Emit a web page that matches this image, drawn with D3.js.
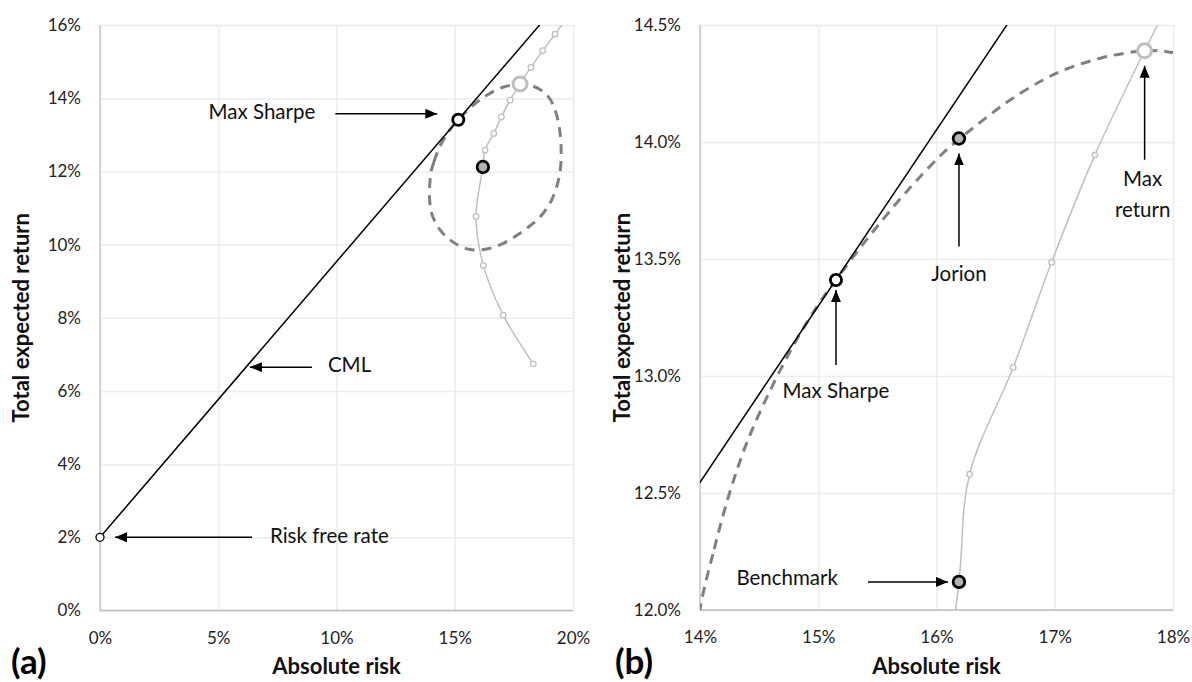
<!DOCTYPE html>
<html>
<head>
<meta charset="utf-8">
<script src="https://cdn.jsdelivr.net/npm/d3@7"></script>
<style>
  body { margin: 0; background: #fff; }
  text { font-family: Lato, "Open Sans", sans-serif; }
</style>
</head>
<body>
<svg id="chart" width="1192" height="682"></svg>
<script>
// values in percent: [absolute risk, total expected return]
const riskFree = [0, 2.0];
const maxSharpe = [15.15, 13.41];
const benchmark = [16.19, 12.12];
const jorion = [16.19, 14.015];
const maxReturn = [17.76, 14.39];
const cml = [[0, 2.0], [19.25, 16.5]];

// unconstrained frontier (light grey line with small markers)
const benchCurve = [
  [18.32, 6.74], [17.05, 8.07], [16.21, 9.43], [15.90, 10.77], [16.19, 12.12],
  [16.28, 12.58], [16.649, 13.037], [16.973, 13.486], [17.339, 13.944], [17.76, 14.39],
  [18.22, 14.84], [18.72, 15.30], [19.24, 15.75], [19.76, 16.21]
];

// tracking-error constrained frontier (dashed loop)
const frontier = [
  [14.00, 12.00], [14.12, 12.26], [14.25, 12.50], [14.40, 12.72], [14.60, 12.945],
  [14.80, 13.14], [15.00, 13.305], [15.15, 13.41], [15.35, 13.545], [15.50, 13.64],
  [15.69, 13.755], [15.85, 13.845], [16.06, 13.955], [16.19, 14.012], [16.33, 14.068],
  [16.60, 14.172], [16.90, 14.265], [17.10, 14.312], [17.40, 14.36], [17.60, 14.38],
  [17.76, 14.39], [17.95, 14.386], [18.20, 14.355], [18.60, 14.24], [18.95, 14.05],
  [19.22, 13.72], [19.42, 13.20], [19.50, 12.55], [19.43, 11.90], [19.12, 11.25],
  [18.67, 10.80], [18.12, 10.48], [17.60, 10.24], [17.00, 10.02], [16.35, 9.88],
  [15.60, 9.87], [14.90, 10.08], [14.38, 10.40], [14.04, 10.82], [13.93, 11.30],
  [13.95, 11.70]
];

const ticksAx = [0, 5, 10, 15, 20];
const ticksAy = [0, 2, 4, 6, 8, 10, 12, 14, 16];
const ticksBx = [14, 15, 16, 17, 18];
const ticksBy = [12.0, 12.5, 13.0, 13.5, 14.0, 14.5];

const svg = d3.select("#chart");
const defs = svg.append("defs");

defs.append("marker")
  .attr("id", "arrow")
  .attr("viewBox", "0 0 12 10")
  .attr("refX", 12).attr("refY", 5)
  .attr("markerWidth", 12).attr("markerHeight", 10)
  .attr("markerUnits", "userSpaceOnUse")
  .attr("orient", "auto")
  .append("path")
  .attr("d", "M0,0L12,5L0,10Z")
  .attr("fill", "#000");

const panels = [
  { id: "a", left: 100, right: 573, top: 25, bottom: 610.5,
    xDomain: [0, 20], yDomain: [0, 16], xTicks: ticksAx, yTicks: ticksAy,
    yFmt: d => d + "%", letter: "(a)", letterX: 11, yTitleX: 29 },
  { id: "b", left: 700, right: 1173, top: 25, bottom: 610,
    xDomain: [14, 18], yDomain: [12, 14.5], xTicks: ticksBx, yTicks: ticksBy,
    yFmt: d => d.toFixed(1) + "%", letter: "(b)", letterX: 615, yTitleX: 630 }
];

function arrow(g, x1, y1, x2, y2) {
  g.append("line")
    .attr("x1", x1).attr("y1", y1).attr("x2", x2).attr("y2", y2)
    .attr("stroke", "#000").attr("stroke-width", 1.5)
    .attr("marker-end", "url(#arrow)");
}

function label(g, txt, x, y, anchor) {
  g.append("text")
    .attr("x", x).attr("y", y)
    .attr("text-anchor", anchor)
    .attr("dominant-baseline", "middle")
    .attr("font-size", 20.5)
    .attr("fill", "#111")
    .text(txt);
}

function drawPanel(p) {
  const x = d3.scaleLinear().domain(p.xDomain).range([p.left, p.right]);
  const y = d3.scaleLinear().domain(p.yDomain).range([p.bottom, p.top]);
  const g = svg.append("g");

  defs.append("clipPath").attr("id", "clip-" + p.id)
    .append("rect")
    .attr("x", p.left).attr("y", p.top)
    .attr("width", p.right - p.left).attr("height", p.bottom - p.top);

  // axes with gridlines
  g.append("g")
    .attr("transform", `translate(0,${p.bottom})`)
    .call(d3.axisBottom(x).tickValues(p.xTicks).tickFormat(d => d + "%")
      .tickSize(-(p.bottom - p.top)).tickPadding(21))
    .call(g => g.select(".domain").remove())
    .call(g => g.selectAll(".tick line").attr("stroke", "#ececec").attr("stroke-width", 1.5))
    .call(g => g.selectAll(".tick text").attr("font-size", 17).attr("fill", "#222")
      .attr("font-family", "Lato, sans-serif"));

  g.append("g")
    .attr("transform", `translate(${p.left},0)`)
    .call(d3.axisLeft(y).tickValues(p.yTicks).tickFormat(p.yFmt)
      .tickSize(-(p.right - p.left)).tickPadding(19))
    .call(g => g.select(".domain").remove())
    .call(g => g.selectAll(".tick line").attr("stroke", "#ececec").attr("stroke-width", 1.5))
    .call(g => g.selectAll(".tick text").attr("font-size", 17).attr("fill", "#222")
      .attr("font-family", "Lato, sans-serif"));

  // axis lines
  g.append("line")
    .attr("x1", p.left).attr("x2", p.left).attr("y1", p.top).attr("y2", p.bottom)
    .attr("stroke", "#c8c8c8").attr("stroke-width", 1.5);
  g.append("line")
    .attr("x1", p.left).attr("x2", p.right).attr("y1", p.bottom).attr("y2", p.bottom)
    .attr("stroke", "#bfbfbf").attr("stroke-width", 1.5);

  const plot = g.append("g").attr("clip-path", `url(#clip-${p.id})`);

  const curve = d3.line()
    .curve(d3.curveCatmullRom.alpha(0.5))
    .x(d => x(d[0]))
    .y(d => y(d[1]));

  plot.append("path")
    .datum(benchCurve)
    .attr("d", curve)
    .attr("fill", "none")
    .attr("stroke", "#bfbfbf")
    .attr("stroke-width", 1.5);

  plot.append("g")
    .selectAll("circle")
    .data(benchCurve)
    .join("circle")
    .attr("cx", d => x(d[0]))
    .attr("cy", d => y(d[1]))
    .attr("r", 2.8)
    .attr("fill", "#fff")
    .attr("stroke", "#bfbfbf")
    .attr("stroke-width", 1.3);

  plot.append("path")
    .datum(frontier)
    .attr("d", d3.line().curve(d3.curveCatmullRomClosed.alpha(0.5))
      .x(d => x(d[0])).y(d => y(d[1])))
    .attr("fill", "none")
    .attr("stroke", "#808080")
    .attr("stroke-width", 3)
    .attr("stroke-dasharray", "10,7");

  plot.append("path")
    .datum(cml)
    .attr("d", d3.line().x(d => x(d[0])).y(d => y(d[1])))
    .attr("stroke", "#000")
    .attr("stroke-width", 1.5);

  const pts = [
    { d: maxReturn, r: 7, fill: "#fff", stroke: "#bfbfbf", sw: 3 },
    { d: maxSharpe, r: 5.6, fill: "#fff", stroke: "#000", sw: 2.8 },
    { d: benchmark, r: 5.8, fill: "#b4b4b4", stroke: "#000", sw: 2.8 }
  ];
  if (p.id === "a") pts.push({ d: riskFree, r: 4, fill: "#fff", stroke: "#000", sw: 1.3 });
  if (p.id === "b") pts.push({ d: jorion, r: 5.8, fill: "#b4b4b4", stroke: "#000", sw: 2.8 });

  g.append("g")
    .selectAll("circle")
    .data(pts)
    .join("circle")
    .attr("cx", d => x(d.d[0]))
    .attr("cy", d => y(d.d[1]))
    .attr("r", d => d.r)
    .attr("fill", d => d.fill)
    .attr("stroke", d => d.stroke)
    .attr("stroke-width", d => d.sw);

  // titles
  g.append("text")
    .attr("x", (p.left + p.right) / 2).attr("y", 674)
    .attr("text-anchor", "middle")
    .attr("font-size", 22).attr("font-weight", "bold")
    .attr("fill", "#111")
    .text("Absolute risk");

  g.append("text")
    .attr("transform", `translate(${p.yTitleX},${(p.top + p.bottom) / 2}) rotate(-90)`)
    .attr("text-anchor", "middle")
    .attr("font-size", 22).attr("font-weight", "bold")
    .attr("fill", "#111")
    .text("Total expected return");

  g.append("text")
    .attr("x", p.letterX).attr("y", 674)
    .attr("font-size", 35).attr("font-weight", "bold")
    .attr("fill", "#000")
    .text(p.letter);

  // annotations
  const ann = g.append("g");
  if (p.id === "a") {
    const ms = [x(maxSharpe[0]), y(maxSharpe[1])];
    arrow(ann, ms[0] - 123, ms[1] - 6, ms[0] - 21, ms[1] - 6);
    label(ann, "Max Sharpe", ms[0] - 143, ms[1] - 6, "end");

    const cmlNote = [6.17, 6.65];
    const c = [x(cmlNote[0]), y(cmlNote[1])];
    arrow(ann, c[0] + 66, c[1], c[0] + 4, c[1]);
    label(ann, "CML", c[0] + 82, c[1], "start");

    const rf = [x(riskFree[0]), y(riskFree[1])];
    arrow(ann, rf[0] + 152, rf[1], rf[0] + 15, rf[1]);
    label(ann, "Risk free rate", rf[0] + 170, rf[1], "start");
  } else {
    const ms = [x(maxSharpe[0]), y(maxSharpe[1])];
    arrow(ann, ms[0], ms[1] + 85, ms[0], ms[1] + 10);
    label(ann, "Max Sharpe", ms[0], ms[1] + 113, "middle");

    const jo = [x(jorion[0]), y(jorion[1])];
    arrow(ann, jo[0], jo[1] + 108, jo[0], jo[1] + 15);
    label(ann, "Jorion", jo[0], jo[1] + 137, "middle");

    const mr = [x(maxReturn[0]), y(maxReturn[1])];
    arrow(ann, mr[0], mr[1] + 109, mr[0], mr[1] + 15);
    label(ann, "Max", mr[0] - 2, mr[1] + 130, "middle");
    label(ann, "return", mr[0] - 2, mr[1] + 161, "middle");

    const bm = [x(benchmark[0]), y(benchmark[1])];
    arrow(ann, bm[0] - 91, bm[1], bm[0] - 11, bm[1]);
    label(ann, "Benchmark", bm[0] - 121, bm[1] - 2, "end");
  }
}

panels.forEach(drawPanel);
</script>
</body>
</html>
